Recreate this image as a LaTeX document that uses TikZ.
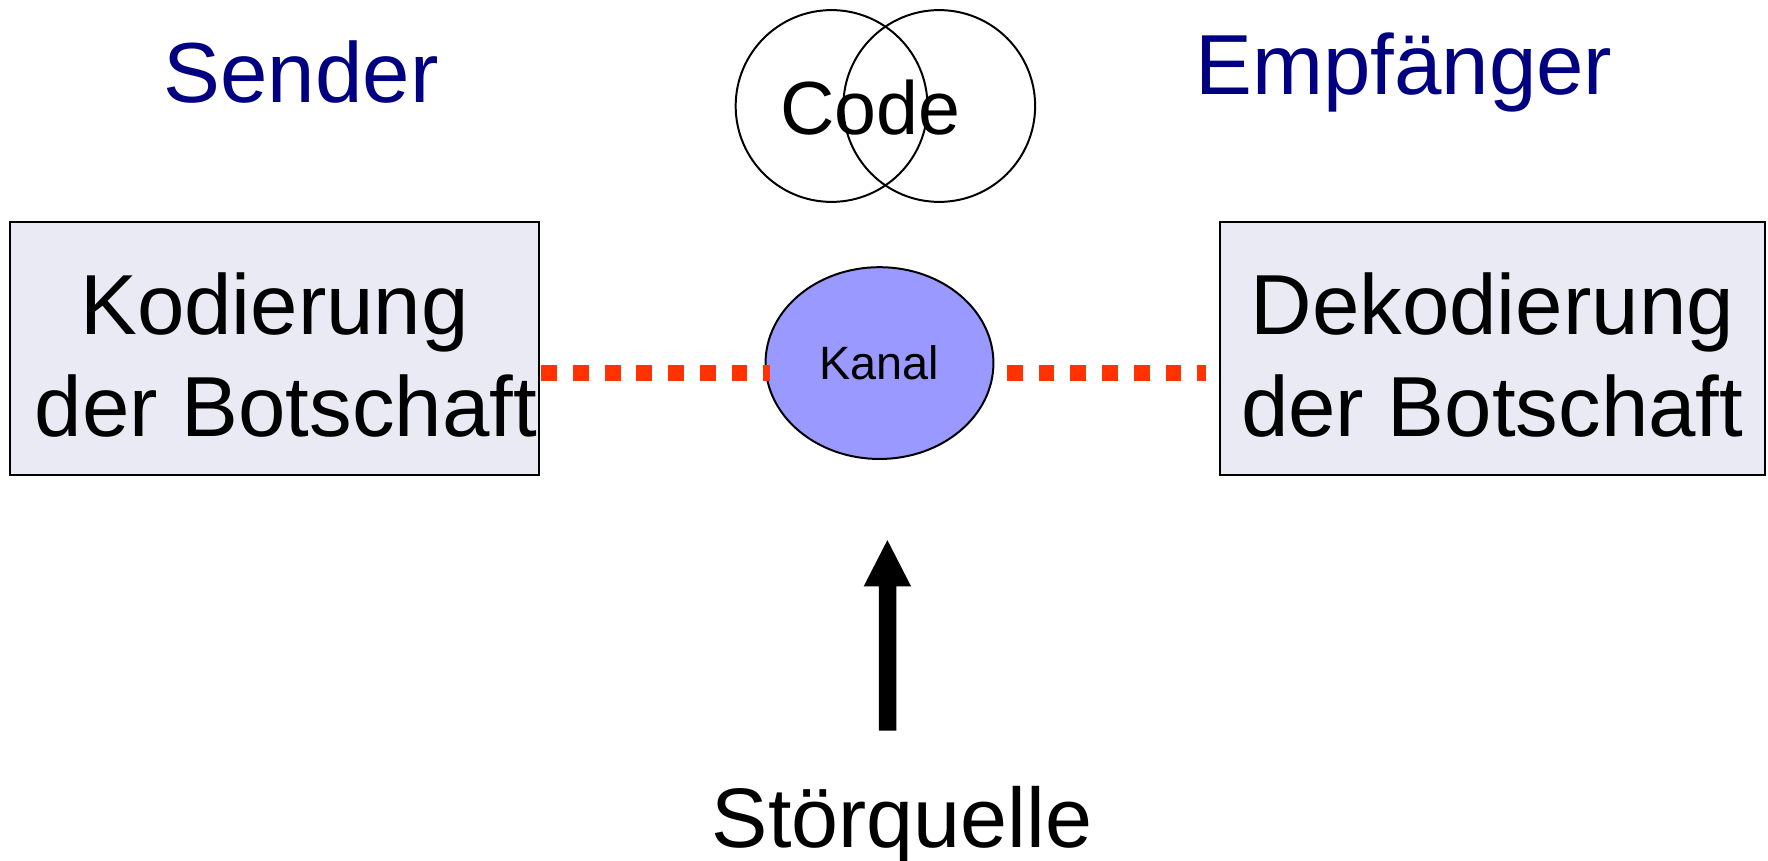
\documentclass[tikz,border=0pt]{standalone}
\usepackage{fontspec}
\setmainfont{Liberation Sans}
\usetikzlibrary{shapes.geometric}
\definecolor{navy}{HTML}{000080}
\definecolor{boxfill}{HTML}{EAEAF4}
\definecolor{kanalfill}{HTML}{9999FF}
\definecolor{dotred}{HTML}{FF3300}
\begin{document}
\begin{tikzpicture}[x=0.01cm,y=-0.01cm,
  box/.style={draw=black, line width=0.45pt, fill=boxfill, inner sep=0pt, align=center,
    minimum height=2.24cm},
  boxtext/.style={inner sep=0pt, align=center, font=\fontsize{21.5}{25.6}\selectfont},
  role/.style={text=navy, font=\fontsize{21.5}{26}\selectfont, inner sep=0pt},
  link/.style={dotred, line width=4pt, dash pattern=on 4pt off 4pt},
  codering/.style={draw=black, line width=0.5pt, circle, inner sep=0pt, minimum size=1.7cm},
  kanalstyle/.style={draw=black, line width=0.5pt, fill=kanalfill, ellipse, inner sep=0pt,
    minimum width=2.02cm, minimum height=1.70cm, font=\fontsize{11.8}{14}\selectfont},
  bigarrow/.style={fill=black}]
\path[use as bounding box] (0,0) rectangle (1568,763);
\node[box, minimum width=4.69cm] (kod) at (243.5,309) {};
\node[boxtext] (kodt) at (248.5,315) {Kodierung\hspace*{0.1cm}\\\hspace*{0.1cm}der Botschaft};
\node[box, minimum width=4.83cm] (dek) at (1323.5,309) {};
\node[boxtext] (dekt) at (1323.5,315) {Dekodierung\\der Botschaft};
\node[role] (sender) at (267,64) {Sender};
\node[role] (empf) at (1245,64) {Empfänger};
\node[codering] (c1) at (737.5,94) {};
\node[codering] (c2) at (833,94) {};
\node[font=\fontsize{19}{23}\selectfont, inner sep=0pt] (code) at (772,95) {Code};
\node[kanalstyle] (kanal) at (780,322) {Kanal};
\coordinate (kodE) at (480,331);
\coordinate (kanW) at (683,331);
\coordinate (kanE) at (893,331);
\coordinate (dekW) at (1070,331);
\draw[link] (kodE) -- (kanW);
\draw[link] (kanE) -- (dekW);
\node[font=\fontsize{21.3}{26}\selectfont, inner sep=0pt] (stoer) at (800,732) {Störquelle};
\coordinate (arrT) at (787,479);
\fill[bigarrow] (779.5,648) -- (779.5,520) -- (766,520) -- (arrT) -- (808,520) -- (795,520) -- (795,648) -- cycle;
\end{tikzpicture}
\end{document}
